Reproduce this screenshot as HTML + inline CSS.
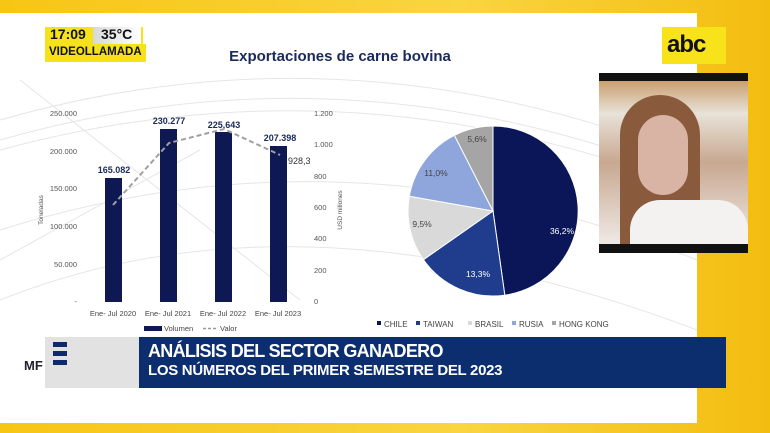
<!DOCTYPE html>
<html><head><meta charset="utf-8"><style>
body{margin:0;width:770px;height:433px;overflow:hidden;background:#f5c21a;font-family:"Liberation Sans",sans-serif;position:relative}
.a{position:absolute}
</style></head><body>
<div class="a" style="left:0;top:0;width:770px;height:433px;background:linear-gradient(90deg,#f7c514,#f9d540 60%,#f3bd10)"></div>
<div class="a" style="left:0;top:13px;width:697px;height:410px;background:#fff"></div>
<svg class="a" style="left:0;top:0" width="770" height="433">
<g fill="none" stroke="#e6e6e6" stroke-width="1">
<path d="M0 120 Q350 20 697 160"/><path d="M0 140 Q350 40 697 180"/><path d="M0 150 Q350 55 697 190"/><path d="M0 300 Q300 180 697 330"/><path d="M20 80 L300 300"/><path d="M0 260 L200 150"/><path d="M0 230 Q350 120 697 260"/>
</g>
<text x="340" y="61" font-size="15" font-weight="bold" fill="#1a2a5a" text-anchor="middle">Exportaciones de carne bovina</text>
<g font-size="7.5" fill="#555" text-anchor="end">
<text x="77" y="116">250.000</text><text x="77" y="154">200.000</text><text x="77" y="191">150.000</text><text x="77" y="229">100.000</text><text x="77" y="267">50.000</text><text x="77" y="304">-</text>
</g>
<g font-size="7.5" fill="#555" text-anchor="start">
<text x="314" y="116">1.200</text><text x="314" y="147">1.000</text><text x="314" y="179">800</text><text x="314" y="210">600</text><text x="314" y="241">400</text><text x="314" y="273">200</text><text x="314" y="304">0</text>
</g>
<text transform="translate(43,210) rotate(-90)" font-size="6.5" fill="#555" text-anchor="middle">Toneladas</text>
<text transform="translate(342,210) rotate(-90)" font-size="6.5" fill="#555" text-anchor="middle">USD millones</text>
<g fill="#0e1852">
<rect x="105" y="178" width="17" height="124"/><rect x="160" y="129" width="17" height="173"/><rect x="215" y="132" width="17" height="170"/><rect x="270" y="146" width="17" height="156"/>
</g>
<polyline points="113,205 169,143 224,129 280,155" fill="none" stroke="#a0a0a0" stroke-width="2" stroke-dasharray="5,3"/>
<g font-size="9" font-weight="bold" fill="#1a2a5a" text-anchor="middle">
<text x="114" y="173">165.082</text><text x="169" y="124">230.277</text><text x="224" y="128">225.643</text><text x="280" y="141">207.398</text>
</g>
<text x="288" y="164" font-size="9" fill="#333">928,3</text>
<g font-size="7.5" fill="#444" text-anchor="middle">
<text x="113" y="316">Ene- Jul 2020</text><text x="168" y="316">Ene- Jul 2021</text><text x="223" y="316">Ene- Jul 2022</text><text x="278" y="316">Ene- Jul 2023</text>
</g>
<rect x="144" y="326" width="18" height="5" fill="#0e1852"/><text x="164" y="331" font-size="7.5" fill="#444">Volumen</text>
<line x1="203" y1="328.5" x2="217" y2="328.5" stroke="#999" stroke-width="1.5" stroke-dasharray="3,2"/><text x="220" y="331" font-size="7.5" fill="#444">Valor</text>
<g transform="translate(493,211)" stroke="#fff" stroke-width="1">
<path d="M0 0 L0 -85 A85 85 0 0 1 11.8 84.2 Z" fill="#0a1658"/>
<path d="M0 0 L11.8 84.2 A85 85 0 0 1 -69.6 48.7 Z" fill="#1f3d8c"/>
<path d="M0 0 L-69.6 48.7 A85 85 0 0 1 -83.7 -14.8 Z" fill="#d9d9d9"/>
<path d="M0 0 L-83.7 -14.8 A85 85 0 0 1 -38.6 -75.7 Z" fill="#8ea6dc"/>
<path d="M0 0 L-38.6 -75.7 A85 85 0 0 1 0 -85 Z" fill="#a5a5a5"/>
</g>
<g font-size="8.5" text-anchor="middle">
<text x="562" y="234" fill="#fff">36,2%</text><text x="478" y="277" fill="#fff">13,3%</text><text x="422" y="227" fill="#444">9,5%</text><text x="436" y="176" fill="#444">11,0%</text><text x="477" y="142" fill="#444">5,6%</text>
</g>
<g font-size="8" fill="#444">
<rect x="377" y="321" width="4" height="4" fill="#0a1658"/><text x="384" y="327">CHILE</text>
<rect x="416" y="321" width="4" height="4" fill="#1f3d8c"/><text x="423" y="327">TAIWAN</text>
<rect x="468" y="321" width="4" height="4" fill="#d9d9d9"/><text x="475" y="327">BRASIL</text>
<rect x="512" y="321" width="4" height="4" fill="#8ea6dc"/><text x="519" y="327">RUSIA</text>
<rect x="552" y="321" width="4" height="4" fill="#a5a5a5"/><text x="559" y="327">HONG KONG</text>
</g>
</svg>
<div class="a" style="left:45px;top:27px;width:98px;height:17px;background:#f6e21a"></div>
<div class="a" style="left:93px;top:27px;width:48px;height:17px;background:linear-gradient(90deg,#d8d8d8,#fff)"></div>
<div class="a" style="left:50px;top:26px;font-size:14px;font-weight:bold;color:#111">17:09</div>
<div class="a" style="left:101px;top:26px;font-size:14px;font-weight:bold;color:#111">35°C</div>
<div class="a" style="left:45px;top:44px;width:101px;height:18px;background:#f6e21a"></div>
<div class="a" style="left:49px;top:46px;font-size:11.5px;font-weight:bold;color:#111">VIDEOLLAMADA</div>
<div class="a" style="left:662px;top:27px;width:64px;height:37px;background:#f8e21a"></div>
<div class="a" style="left:667px;top:31px;font-size:24px;font-weight:bold;color:#111;letter-spacing:-1px">abc</div>
<div class="a" style="left:599px;top:73px;width:149px;height:180px;background:#111"></div>
<div class="a" style="left:599px;top:81px;width:149px;height:163px;background:linear-gradient(180deg,#c9a070 0%,#e8e2d8 20%,#c8a890 50%,#efe9e6 100%)"></div>
<div class="a" style="left:620px;top:95px;width:80px;height:149px;border-radius:40px 40px 0 0;background:#8a5a3c"></div>
<div class="a" style="left:638px;top:115px;width:50px;height:80px;border-radius:25px;background:#d9b3a3"></div>
<div class="a" style="left:630px;top:200px;width:118px;height:44px;border-radius:30px 30px 0 0;background:#f4f2f0"></div>
<div class="a" style="left:45px;top:337px;width:94px;height:51px;background:#e2e2e2"></div>
<div class="a" style="left:53px;top:342px;width:14px;height:5px;background:#0e2a6a"></div>
<div class="a" style="left:53px;top:351px;width:14px;height:5px;background:#0e2a6a"></div>
<div class="a" style="left:53px;top:360px;width:14px;height:5px;background:#0e2a6a"></div>
<div class="a" style="left:24px;top:358px;font-size:13px;font-weight:bold;color:#223">MF</div>
<div class="a" style="left:139px;top:337px;width:587px;height:51px;background:#0c2d6e"></div>
<div class="a" style="left:148px;top:341px;font-size:18px;font-weight:bold;color:#fff;letter-spacing:-0.7px">ANÁLISIS DEL SECTOR GANADERO</div>
<div class="a" style="left:148px;top:362px;font-size:15px;font-weight:bold;color:#fff;letter-spacing:-0.3px">LOS NÚMEROS DEL PRIMER SEMESTRE DEL 2023</div>
</body></html>
